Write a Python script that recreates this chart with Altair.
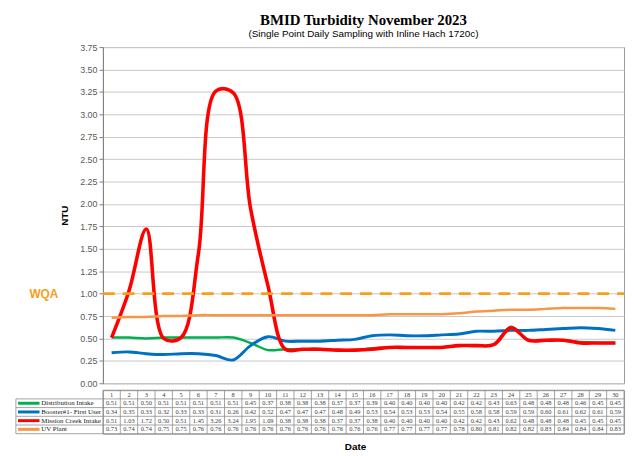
import altair as alt
import pandas as pd

# ---------------- data ----------------
days = list(range(1, 31))
series_names = ["Distribution Intake", "Booster#1- First User", "Mission Creek Intake", "UV Plant"]
distribution = [0.51, 0.51, 0.50, 0.51, 0.51, 0.51, 0.51, 0.51, 0.45, 0.37, 0.38, 0.38, 0.38, 0.37, 0.37,
                0.39, 0.40, 0.40, 0.40, 0.40, 0.42, 0.42, 0.43, 0.63, 0.48, 0.48, 0.48, 0.46, 0.45, 0.45]
booster = [0.34, 0.35, 0.33, 0.32, 0.33, 0.33, 0.31, 0.26, 0.42, 0.52, 0.47, 0.47, 0.47, 0.48, 0.49,
           0.53, 0.54, 0.53, 0.53, 0.54, 0.55, 0.58, 0.58, 0.59, 0.59, 0.60, 0.61, 0.62, 0.61, 0.59]
mission = [0.51, 1.03, 1.72, 0.50, 0.51, 1.45, 3.26, 3.24, 1.95, 1.09, 0.38, 0.38, 0.38, 0.37, 0.37,
           0.38, 0.40, 0.40, 0.40, 0.40, 0.42, 0.42, 0.43, 0.62, 0.48, 0.48, 0.48, 0.45, 0.45, 0.45]
uv_plant = [0.73, 0.74, 0.74, 0.75, 0.75, 0.76, 0.76, 0.76, 0.76, 0.76, 0.76, 0.76, 0.76, 0.76, 0.76,
            0.76, 0.77, 0.77, 0.77, 0.77, 0.78, 0.80, 0.81, 0.82, 0.82, 0.83, 0.84, 0.84, 0.84, 0.83]
series_values = [distribution, booster, mission, uv_plant]
colors = ["#00b050", "#0070c0", "#ff0000", "#f79646"]
widths = [2.5, 3.0, 3.6, 2.5]
y_ticks = [0.0, 0.25, 0.5, 0.75, 1.0, 1.25, 1.5, 1.75, 2.0, 2.25, 2.5, 2.75, 3.0, 3.25, 3.5, 3.75]
wqa_value = 1.0
wqa_label = "WQA"
wqa_color = "#f5a01a"

# label-column geometry for the data table (in day units)
label_col_left = -4.51
swatch_end = -3.15
label_text_x = -3.05
wqa_text_x = -2.9

# ---------------- frames ----------------
rows = []
for name, vals in zip(series_names, series_values):
    for d, v in zip(days, vals):
        rows.append({"series": name, "day": d, "ntu": v})
df = pd.DataFrame(rows)

xscale = alt.Scale(domain=[0.5, 30.5], nice=False, zero=False)
yscale = alt.Scale(domain=[0, 3.75], nice=False)
y_axis = alt.Axis(values=y_ticks, format=".2f", labelFont="Liberation Sans", labelFontSize=9,
                  labelColor="#595959", tickColor="#808080", tickSize=4, labelPadding=2,
                  labelOverlap=False, domainColor="#808080", gridColor="#c8c8c8",
                  titleFont="Liberation Sans", titleFontSize=10, titleFontWeight="bold",
                  titleColor="black", titlePadding=10)


def ych(field):
    return alt.Y(field, scale=yscale, title="NTU", axis=y_axis)


layers = []
for name, col, w in zip(series_names, colors, widths):
    layers.append(
        alt.Chart(df).transform_filter(alt.datum.series == name)
        .mark_line(interpolate="catmull-rom", color=col, strokeWidth=w)
        .encode(x=alt.X("day:Q", scale=xscale, axis=None), y=ych("ntu:Q"))
    )

wqa_df = pd.DataFrame({"x": [0.5], "x2": [30.5], "y": [wqa_value], "lx": [wqa_text_x], "label": [wqa_label]})
wqa_rule = alt.Chart(wqa_df).mark_rule(color=wqa_color, strokeWidth=3, strokeDash=[12, 8]).encode(
    x=alt.X("x:Q", scale=xscale, axis=None), x2="x2:Q", y=ych("y:Q"))
wqa_text = alt.Chart(wqa_df).mark_text(color=wqa_color, font="Liberation Sans", fontSize=12,
                                       fontWeight="bold", align="center", baseline="middle").encode(
    x=alt.X("lx:Q", scale=xscale, axis=None), y=ych("y:Q"), text="label:N")

top = alt.layer(*layers, wqa_rule, wqa_text).properties(
    width=527, height=340,
    title=alt.TitleParams(
        "BMID Turbidity November 2023",
        subtitle="(Single Point Daily Sampling with Inline Hach 1720c)",
        font="Liberation Serif", fontSize=15, fontWeight="bold", color="black",
        subtitleFont="Liberation Sans", subtitleFontSize=10, subtitleColor="black",
        anchor="middle", frame="group", offset=4, subtitlePadding=1),
)

# ---------------- data table ----------------
tscale = alt.Scale(domain=[0, 5], reverse=True, nice=False, zero=False)
cells = []
for d in days:
    cells.append({"day": d, "r": 0.5, "txt": str(d)})
for i, vals in enumerate(series_values):
    for d, v in zip(days, vals):
        cells.append({"day": d, "r": i + 1.5, "txt": f"{v:.2f}"})
cells_df = pd.DataFrame(cells)

vlines = [{"x": k + 0.5, "y": 0, "y2": 5} for k in range(31)] + [{"x": label_col_left, "y": 1, "y2": 5}]
hlines = [{"x": 0.5, "x2": 30.5, "y": 0}] + [{"x": label_col_left, "x2": 30.5, "y": r} for r in range(1, 6)]
vl_df = pd.DataFrame(vlines)
hl_df = pd.DataFrame(hlines)

legend_df = pd.DataFrame({
    "series": series_names, "r": [1.5, 2.5, 3.5, 4.5],
    "x": [label_col_left + 0.12] * 4, "x2": [swatch_end] * 4, "tx": [label_text_x] * 4,
})

x_table_axis = alt.Axis(labels=False, ticks=False, domain=False, grid=False, title="Date",
                        titleFont="Liberation Sans", titleFontSize=10, titleFontWeight="bold",
                        titleColor="black", titlePadding=8, titleX=255)

vrule = alt.Chart(vl_df).mark_rule(color="#8c8c8c", strokeWidth=0.8).encode(
    x=alt.X("x:Q", scale=xscale, axis=x_table_axis),
    y=alt.Y("y:Q", scale=tscale, axis=None), y2="y2:Q")
hrule = alt.Chart(hl_df).mark_rule(color="#8c8c8c", strokeWidth=0.8).encode(
    x=alt.X("x:Q", scale=xscale, axis=x_table_axis), x2="x2:Q", y=alt.Y("y:Q", scale=tscale, axis=None))
cell_text = alt.Chart(cells_df).mark_text(font="Liberation Serif", fontSize=6.5, color="#404040",
                                          baseline="middle", align="center").encode(
    x=alt.X("day:Q", scale=xscale, axis=x_table_axis), y=alt.Y("r:Q", scale=tscale, axis=None), text="txt:N")
swatch = alt.Chart(legend_df).mark_rule(strokeWidth=3).encode(
    x=alt.X("x:Q", scale=xscale, axis=x_table_axis), x2="x2:Q", y=alt.Y("r:Q", scale=tscale, axis=None),
    color=alt.Color("series:N", scale=alt.Scale(domain=series_names, range=colors), legend=None))
label_text = alt.Chart(legend_df).mark_text(font="Liberation Serif", fontSize=7, color="#202020",
                                            align="left", baseline="middle").encode(
    x=alt.X("tx:Q", scale=xscale, axis=x_table_axis), y=alt.Y("r:Q", scale=tscale, axis=None),
    text="series:N")

table = alt.layer(vrule, hrule, cell_text, swatch, label_text).properties(width=527, height=44)

chart = alt.vconcat(top, table, spacing=0).properties(
    padding={"left": 7, "top": 2, "right": 0, "bottom": 0},
    background="white",
).configure_view(stroke="#9a9a9a", strokeWidth=1)

chart.save("out.html", embed_options={"renderer": "svg", "actions": False})
